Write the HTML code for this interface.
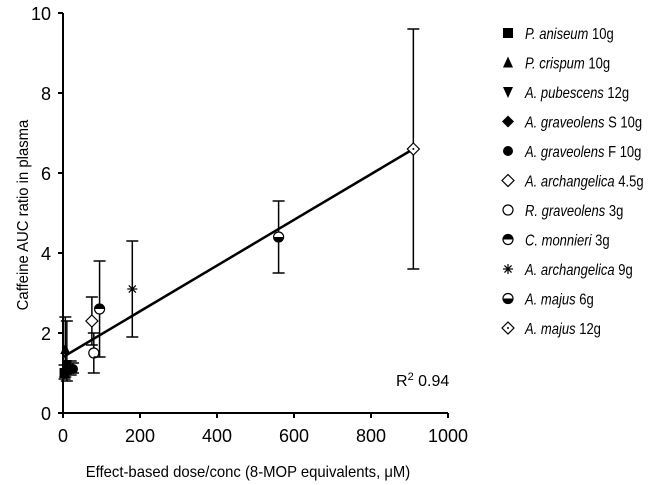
<!DOCTYPE html>
<html><head><meta charset="utf-8"><style>
html,body{margin:0;padding:0;background:#fff;}
svg{display:block;font-family:"Liberation Sans",Arial,sans-serif;}
</style></head><body>
<svg id="chart" width="656" height="485" viewBox="0 0 656 485">
<g id="axes"></g><g id="marks"></g><g id="legend"></g>
</svg>
<script>
const labels=["P. aniseum|10g","P. crispum|10g","A. pubescens|12g","A. graveolens|S 10g","A. graveolens|F 10g","A. archangelica|4.5g","R. graveolens|3g","C. monnieri|3g","A. archangelica|9g","A. majus|6g","A. majus|12g"];
const markers=["square","triUp","triDown","diamondFill","circleFill","diamondOpen","circleOpen","halfCircleTop","asterisk","halfCircleBot","diamondDot"];
const xVals=[4,6,10,20,26,75,80,95,180,560,910];
const yVals=[1.0,1.6,1.2,1.1,1.1,2.3,1.5,2.6,3.1,4.4,6.6];
const yLow=[0.85,0.9,0.8,0.95,1.0,1.7,1.0,1.4,1.9,3.5,3.6];
const yHigh=[1.2,2.4,2.3,1.3,1.25,2.9,2.0,3.8,4.3,5.3,9.6];
const xTicks=[0,200,400,600,800,1000];
const yTicks=[0,2,4,6,8,10];
const fitX=[0,910];
const fitY=[1.4,6.6];
const NS="http://www.w3.org/2000/svg";
const X=v=>63+v*0.385, Y=v=>413-v*40;
function mk(tag,at,par){const e=document.createElementNS(NS,tag);for(const k in at)e.setAttribute(k,at[k]);par.appendChild(e);return e;}
const axes=document.getElementById('axes'),marks=document.getElementById('marks'),leg=document.getElementById('legend');
let a=mk('line',{x1:X(0),y1:Y(0),x2:X(1000),y2:Y(0),stroke:'#000','stroke-width':2},axes);

a=mk('line',{x1:X(0),y1:Y(0),x2:X(0),y2:Y(10),stroke:'#000','stroke-width':2},axes);

xTicks.forEach(t=>{mk('line',{x1:X(t),y1:Y(0),x2:X(t),y2:Y(0)+5,stroke:'#000','stroke-width':2},axes);
 const tx=mk('text',{x:X(t),y:442,'text-anchor':'middle','font-size':18},axes);tx.textContent=t;
 });
yTicks.forEach(t=>{mk('line',{x1:X(0)-5,y1:Y(t),x2:X(0),y2:Y(t),stroke:'#000','stroke-width':2},axes);
 const tx=mk('text',{x:51,y:Y(t)+7,'text-anchor':'end','font-size':18},axes);tx.textContent=t;
 });
let t=mk('text',{x:0,y:0,'text-anchor':'middle','font-size':16,transform:'translate(248,477) scale(0.93,1)'},axes);t.textContent='Effect-based dose/conc (8-MOP equivalents, μM)';

t=mk('text',{x:0,y:0,'text-anchor':'middle','font-size':16,transform:'translate(28,215) rotate(-90) scale(0.93,1)'},axes);t.textContent='Caffeine AUC ratio in plasma';

t=mk('text',{x:396,y:386,'font-size':16},axes);t.innerHTML='R<tspan font-size="11" dy="-6">2</tspan><tspan dy="6"> 0.94</tspan>';

const fl=mk('line',{x1:X(fitX[0]),y1:Y(fitY[0]),x2:X(fitX[1]),y2:Y(fitY[1]),stroke:'#000','stroke-width':2.5},marks);

function marker(type,cx,cy,par,s){
 const g=mk('g',{},par);const st={stroke:'#000','stroke-width':1.2};
 if(type==='square')mk('rect',{x:cx-s,y:cy-s,width:2*s,height:2*s,fill:'#000'},g);
 else if(type==='triUp')mk('polygon',{points:`${cx},${cy-s-1} ${cx-s},${cy+s} ${cx+s},${cy+s}`,fill:'#000'},g);
 else if(type==='triDown')mk('polygon',{points:`${cx},${cy+s+1} ${cx-s},${cy-s} ${cx+s},${cy-s}`,fill:'#000'},g);
 else if(type==='diamondFill')mk('polygon',{points:`${cx},${cy-s-1} ${cx+s+1},${cy} ${cx},${cy+s+1} ${cx-s-1},${cy}`,fill:'#000'},g);
 else if(type==='circleFill')mk('circle',{cx,cy,r:s,fill:'#000'},g);
 else if(type==='diamondOpen'||type==='diamondDot'){mk('polygon',Object.assign({points:`${cx},${cy-s-1} ${cx+s+1},${cy} ${cx},${cy+s+1} ${cx-s-1},${cy}`,fill:'#fff'},st),g);
  if(type==='diamondDot')mk('circle',{cx,cy,r:1,fill:'#000'},g);}
 else if(type==='circleOpen')mk('circle',Object.assign({cx,cy,r:s,fill:'#fff'},st),g);
 else if(type==='halfCircleTop'||type==='halfCircleBot'){mk('circle',Object.assign({cx,cy,r:s,fill:'#fff'},st),g);
  const top=type==='halfCircleTop';mk('path',{d:top?`M${cx-s},${cy} A${s},${s} 0 0 1 ${cx+s},${cy} Z`:`M${cx-s},${cy} A${s},${s} 0 0 0 ${cx+s},${cy} Z`,fill:'#000'},g);}
 else if(type==='asterisk'){for(let k=0;k<4;k++){const an=k*Math.PI/4;mk('line',Object.assign({x1:cx-s*Math.cos(an),y1:cy-s*Math.sin(an),x2:cx+s*Math.cos(an),y2:cy+s*Math.sin(an)},st),g);}}
 return g;}
xVals.forEach((xv,i)=>{
 const g=mk('g',{},marks);
 
 
 const cx=X(xv);
 mk('line',{x1:cx,y1:Y(yLow[i]),x2:cx,y2:Y(yHigh[i]),stroke:'#000','stroke-width':1.5},g);
 [yLow[i],yHigh[i]].forEach(v=>mk('line',{x1:cx-6,y1:Y(v),x2:cx+6,y2:Y(v),stroke:'#000','stroke-width':1.5},g));
 marker(markers[i],cx,Y(yVals[i]),g,5);
});
labels.forEach((l,i)=>{
 const y=33+i*29.5;const g=mk('g',{},leg);
 
 
 marker(markers[i],508,y,g,5);
 const [sp,rest]=l.split('|');
 const tx=mk('text',{x:0,y:0,'font-size':15.5,transform:`translate(525,${y+6}) scale(0.84,1)`},g);
 tx.innerHTML='<tspan font-style="italic">'+sp+'</tspan> '+rest;
});
</script>
</body></html>
